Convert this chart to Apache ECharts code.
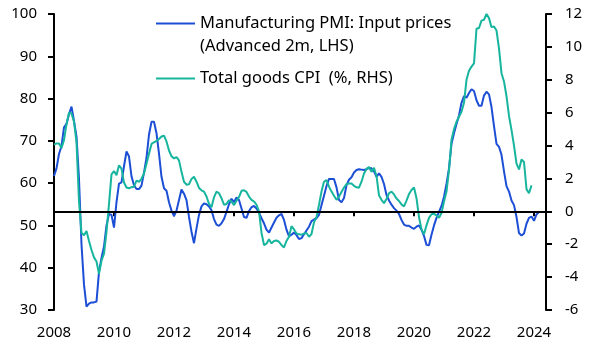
<!DOCTYPE html>
<html>
<head>
<meta charset="utf-8">
<script src="https://cdn.jsdelivr.net/npm/echarts@6/dist/echarts.min.js"></script>
<style>
html, body { margin: 0; padding: 0; background: #fff; }
#chart { width: 593px; height: 354px; }
</style>
</head>
<body>
<div id="chart"></div>
<script>
(function(){
	'use strict';

	// monthly data, first value is Jan 2008
	var startYear = 2008;
	var pmiName = 'Manufacturing PMI: Input prices (Advanced 2m, LHS)';
	var cpiName = 'Total goods CPI  (%, RHS)';

	// Manufacturing PMI input prices, advanced 2 months (LHS)
	var pmiValues = [
		61.7, 63.5, 66.9, 68.8, 73.2, 74.0, 76.3, 78.1, 74.7, 71.0,
		61.0, 45.5, 36.0, 30.8, 31.5, 31.8, 31.8, 32.0, 39.0, 42.3,
		45.0, 50.0, 52.7, 52.5, 49.5, 55.5, 59.9, 60.2, 64.0, 67.5,
		66.3, 61.6, 59.5, 58.6, 58.6, 59.4, 62.5, 66.0, 71.5, 74.5,
		74.5, 71.8, 67.0, 61.5, 58.8, 58.2, 55.5, 53.5, 52.2, 53.5,
		56.0, 58.5, 57.5, 56.0, 52.0, 48.5, 45.8, 49.3, 52.5, 54.5,
		55.2, 55.0, 54.5, 53.6, 51.5, 50.2, 49.9, 50.5, 51.5, 53.2,
		55.0, 56.3, 55.5, 56.6, 56.0, 54.0, 52.0, 51.8, 53.4, 54.3,
		54.6, 54.0, 53.0, 51.7, 50.5, 49.0, 48.3, 49.5, 50.7, 51.8,
		52.4, 52.7, 51.3, 49.0, 47.4, 47.8, 48.3, 47.7, 46.8, 47.0,
		47.9, 48.8, 49.7, 51.0, 51.4, 51.7, 52.5, 54.8, 57.0, 59.3,
		61.0, 61.0, 61.0, 59.0, 56.0, 55.5, 56.5, 59.5, 60.8, 61.4,
		62.5, 63.1, 63.3, 63.2, 63.1, 63.3, 63.6, 63.5, 62.8, 61.5,
		62.3, 61.5, 59.8, 57.2, 55.9, 54.9, 54.1, 53.5, 52.7, 51.3,
		50.2, 49.9, 49.9, 49.5, 49.2, 49.7, 50.0, 49.0, 47.5, 45.4,
		45.3, 47.8, 50.0, 51.8, 53.2, 54.6, 56.8, 59.8, 63.5, 69.3,
		71.8, 74.0, 76.0, 79.0, 80.6, 80.2, 81.3, 82.2, 81.8, 79.6,
		78.3, 78.3, 80.7, 81.6, 81.0, 78.0, 73.5, 69.3, 68.6, 66.7,
		62.8, 59.3, 58.0, 55.9, 54.8, 52.0, 48.2, 47.6, 48.1, 50.4,
		51.8, 52.1, 51.1, 52.6, 53.2
	];

	// total goods CPI, % y/y (RHS)
	var cpiValues = [
		4.05, 4.13, 4.13, 3.85, 4.33, 5.3, 6.0, 5.95, 5.45, 4.2,
		0.6, -1.3, -1.45, -1.2, -1.8, -2.35, -2.8, -3.05, -3.8, -3.0,
		-2.58, -1.25, 0.45, 2.25, 2.45, 2.2, 2.8, 2.6, 1.75, 1.45,
		1.4, 1.47, 1.5, 1.87, 1.8, 1.98, 2.3, 2.9, 3.5, 4.1,
		4.2, 4.28, 4.4, 4.55, 4.6, 4.25, 3.7, 3.35, 3.22, 3.3,
		3.1, 2.4, 1.8, 1.62, 1.65, 1.97, 2.1, 1.8, 1.42, 1.28,
		1.2, 0.9, 0.45, 0.25, 0.85, 1.2, 1.1, 0.8, 0.4, 0.45,
		0.67, 0.6, 0.38, 0.65, 0.87, 1.25, 1.28, 1.18, 0.9, 0.7,
		0.6, 0.4, 0.0, -1.3, -2.05, -1.97, -1.7, -1.95, -1.8, -1.77,
		-1.85, -2.05, -2.2, -1.8, -1.55, -0.9, -1.1, -1.35, -1.4, -1.42,
		-1.35, -1.32, -1.55, -1.38, -0.66, -0.35, 0.4, 1.2, 1.8, 1.9,
		1.5, 1.2, 0.95, 0.7, 0.9, 1.18, 1.45, 1.65, 1.69, 1.69,
		1.55, 1.46, 1.44, 1.8, 2.3, 2.58, 2.7, 2.4, 2.65, 2.15,
		0.97, 0.7, 0.5, 0.75, 1.1, 1.2, 1.03, 0.78, 0.63, 0.42,
		0.3, 0.65, 1.05, 1.3, 1.45, 0.8, -0.35, -1.1, -1.4, -0.85,
		-0.4, -0.18, -0.15, -0.25, -0.4, -0.1, 0.6, 1.2, 2.5, 4.35,
		5.0, 5.45, 5.75, 6.05, 6.6, 8.0, 8.55, 8.8, 9.0, 11.1,
		11.15, 11.6, 11.65, 12.0, 11.75, 11.2, 11.24, 11.0, 9.9, 8.4,
		7.9, 7.0, 5.8, 4.95, 4.0, 2.9, 2.55, 3.15, 3.0, 1.35,
		1.1, 1.58
	];

	var yearTicks = [2008, 2010, 2012, 2014, 2016, 2018, 2020, 2022, 2024];

	var font = 'Noto Sans';
	var axisColor = '#000';

	var toPairs = function(values){
		return values.map(function(v, i){
			return [startYear + i / 12, v];
		});
	};

	var myChart = echarts.init(document.getElementById('chart'));

	var option = {
		animation: false,
		grid: { left: 54, right: 47, top: 14, bottom: 44 },
		legend: {
			orient: 'vertical',
			left: 156,
			top: -11,
			padding: 0,
			icon: 'rect',
			itemWidth: 39,
			itemHeight: 2,
			itemGap: 9,
			data: [pmiName, cpiName],
			// blank first line keeps the line icon level with the first text line
			formatter: function(name){
				if (name === pmiName) {
					return ' \nManufacturing PMI: Input prices\n(Advanced 2m, LHS)';
				}
				return name;
			},
			textStyle: { fontFamily: font, fontSize: 16.5, lineHeight: 23, color: '#000' }
		},
		xAxis: {
			type: 'value',
			min: 2008,
			max: 2024.4,
			interval: 2,
			axisLine: { lineStyle: { color: axisColor, width: 2 } },
			axisTick: { length: 5, lineStyle: { color: axisColor, width: 2 }, customValues: yearTicks },
			axisLabel: {
				customValues: yearTicks,
				margin: 15,
				fontFamily: font, fontSize: 15, color: '#000',
				formatter: function(v){ return String(v); }
			},
			splitLine: { show: false }
		},
		yAxis: [
			{
				type: 'value',
				position: 'left',
				min: 30, max: 100, interval: 10,
				axisLine: { show: true, lineStyle: { color: axisColor, width: 2 } },
				axisTick: { show: true, length: 6, lineStyle: { color: axisColor, width: 2 } },
				axisLabel: { margin: 17, fontFamily: font, fontSize: 15, color: '#000' },
				splitLine: { show: false }
			},
			{
				type: 'value',
				position: 'right',
				min: -6, max: 12, interval: 2,
				axisLine: { show: true, lineStyle: { color: axisColor, width: 2 } },
				axisTick: { show: true, length: 6, lineStyle: { color: axisColor, width: 2 } },
				axisLabel: { margin: 19, fontFamily: font, fontSize: 15, color: '#000' },
				splitLine: { show: false }
			}
		],
		series: [
			{
				name: pmiName,
				type: 'line',
				yAxisIndex: 0,
				symbol: 'none',
				color: '#1c4fd6',
				lineStyle: { width: 2, color: '#1c4fd6' },
				data: toPairs(pmiValues)
			},
			{
				name: cpiName,
				type: 'line',
				yAxisIndex: 1,
				symbol: 'none',
				color: '#17b59d',
				lineStyle: { width: 2, color: '#17b59d' },
				data: toPairs(cpiValues),
				// zero line of the right-hand axis
				markLine: {
					silent: true,
					symbol: 'none',
					label: { show: false },
					lineStyle: { color: '#000', width: 2, type: 'solid' },
					data: [{ yAxis: 0 }]
				}
			}
		]
	};

	myChart.setOption(option);
})();
</script>
</body>
</html>
